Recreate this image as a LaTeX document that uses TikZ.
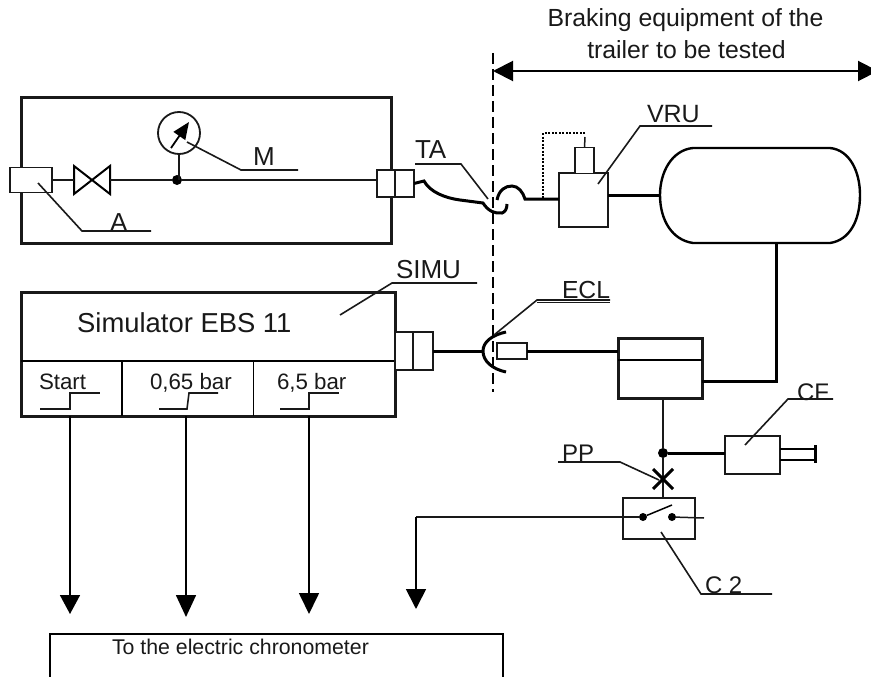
\documentclass[tikz,border=0pt]{standalone}
\usepackage{fontspec}
\setmainfont{Liberation Sans}
\usetikzlibrary{arrows.meta}
\tikzset{
  x=1pt,y=-1pt,
  thin line/.style={line width=1.5pt,black!90},
  thick line/.style={line width=3pt,black!90},
  leader/.style={line width=1.6pt,black!90},
  bx/.style={draw=black!90,fill=white,line width=1.6pt,inner sep=0,outer sep=0,anchor=north west},
  heavybx/.style={bx,line width=3pt},
  lbl/.style={inner sep=0,outer sep=0,anchor=base west,font=\fontsize{26}{26}\selectfont,text=black!90},
  small/.style={inner sep=0,outer sep=0,anchor=base west,font=\fontsize{22.3}{22}\selectfont,text=black!90},
  dotn/.style={circle,fill=black,inner sep=0,outer sep=0,minimum size=10pt},
  tip/.style={-{Triangle[length=#1,width=20pt]},line width=1.7pt},
  hdr/.style={inner sep=0,outer sep=0,anchor=base,font=\fontsize{24.8}{25}\selectfont,text=black!90},
}
\begin{document}
\begin{tikzpicture}
\useasboundingbox (0,0) rectangle (871,677);
\clip (0,0) rectangle (871,677);
% top header
\node[hdr] (hdr1) at (685.5,27) {Braking equipment of the};
\node[hdr] (hdr2) at (686.5,59) {trailer to be tested};
\coordinate (spanL) at (493,71);
\coordinate (spanR) at (878,71);
\draw[{Triangle[length=20pt,width=20pt]}-{Triangle[length=20pt,width=20pt]},line width=2pt] (spanL) -- (spanR);
% boundary
\coordinate (divT) at (493,53);
\coordinate (divB) at (493,392);
\draw[line width=1.6pt,dash pattern=on 11pt off 5pt] (divT) -- (divB);

% upper box
\node[heavybx,fill=none,minimum width=370pt,minimum height=145pt] (panel) at (21,98) {};
\node[bx,minimum width=42pt,minimum height=25pt] (A) at (10,167.5) {};
\coordinate (vL) at (74,180);
\coordinate (vC) at (92,180);
\coordinate (vR) at (110,180);
\draw[line width=2pt,line join=miter] (74,166) -- (110,194) -- (110,166) -- (74,194) -- cycle;
\node[dotn] (junc) at (177,180) {};
\node[circle,draw=black!90,line width=1.8pt,fill=white,inner sep=0,minimum size=42pt] (gauge) at (179,133) {};
\node[bx,minimum width=18pt,minimum height=27pt] (c1) at (377,170) {};
\node[bx,minimum width=19pt,minimum height=27pt] (c2) at (395,170) {};
\draw[thin line] (A.east) -- (vL);
\draw[thin line] (vR) -- (junc) -- (junc -| c1.west);
\draw[thin line] (gauge.south) -- (gauge.south |- junc);
\coordinate (needleA) at (171,148);
\coordinate (needleB) at (189,122);
\draw[-{Triangle[length=17pt,width=14pt]},line width=1.8pt] (needleA) -- (needleB);
% leaders M, A
\coordinate (mT) at (187,142); \coordinate (mK) at (241,170); \coordinate (mE) at (298,170);
\draw[leader] (mT) -- (mK) -- (mE);
\node[lbl] (labM) at (253,165) {M};
\coordinate (aT) at (38,183); \coordinate (aK) at (82,231); \coordinate (aE) at (151,231);
\draw[leader] (aT) -- (aK) -- (aE);
\node[lbl] (labA) at (110,231) {A};

% trailer side
\node[bx,minimum width=49pt,minimum height=54pt] (VRU) at (559,173) {};
\node[bx,minimum width=19pt,minimum height=26pt] (VRUtop) at (575,147.5) {};
\coordinate (stem) at (585,137);
\draw[thin line] (VRUtop.north) -- (stem);
\coordinate (dA) at (585,133); \coordinate (dB) at (543,133); \coordinate (dC) at (543,198);
\draw[line width=2.4pt,dash pattern=on 2pt off 1.5pt] (dA) -- (dB) -- (dC);
% hose
\coordinate (hoseA) at (424,181);
\draw[line width=3pt] (c2.east) -- (424,181) .. controls (430,192) and (445,198) .. (460,200) -- (483,203) .. controls (488,211) and (495,214) .. (502,213) .. controls (505,212) and (507,209) .. (507,204);
\draw[line width=3pt] (497,200) .. controls (499,190) and (505,186) .. (512,186) .. controls (518,186) and (523,192) .. (525,199) -- (VRU.west |- 0,199);
\draw[line width=3pt] (VRU.east |- 0,195) -- (660,195);
% tank
\node[inner sep=0,outer sep=0,minimum width=200pt,minimum height=95pt] (tank) at (760,195.5) {};
\draw[line width=2.4pt] (693,148) -- (830,148) .. controls (850,150) and (860,172) .. (860,195) .. controls (860,220) and (850,240) .. (830,243) -- (693,243) .. controls (672,240) and (660,220) .. (660,195) .. controls (660,172) and (672,150) .. (693,148) -- cycle;
% leaders
\coordinate (taS) at (415,164); \coordinate (taK) at (461,164); \coordinate (taT) at (488,199);
\draw[leader] (taS) -- (taK) -- (taT);
\node[lbl] (labTA) at (415,158) {TA};
\coordinate (vT) at (598,184); \coordinate (vK) at (640,126); \coordinate (vE) at (712,126);
\draw[leader] (vT) -- (vK) -- (vE);
\node[lbl,font=\fontsize{25}{25}\selectfont] (labVRU) at (647,123) {VRU};

% simulator
\node[heavybx,minimum width=374pt,minimum height=124pt] (sim) at (21,292) {};
\coordinate (simL) at (21,361); \coordinate (simR) at (395,361);
\draw[line width=2.2pt] (simL) -- (simR);
\draw[line width=2pt] (122,361) -- (122,416);
\draw[line width=1pt] (253,361) -- (253,416);
\node[inner sep=0,anchor=base west,font=\fontsize{27.4}{27}\selectfont,text=black!90] (labSim) at (77,332) {Simulator EBS 11};
\node[small] (labStart) at (39,389) {Start};
\node[small] (lab065) at (150,389) {0,65 bar};
\node[small] (lab65) at (277,389) {6,5 bar};
\draw[leader] (40,409) -- (70,409) -- (70,393) -- (100,393);
\draw[leader] (159,409) -- (187,409) -- (189,393) -- (218,393);
\draw[leader] (280,409) -- (309,409) -- (309,393) -- (339,393);
% simulator plug
\node[bx,minimum width=18pt,minimum height=38pt] (p1) at (395,332) {};
\node[bx,minimum width=20pt,minimum height=38pt] (p2) at (413,332) {};
\coordinate (sockM) at (483,351);
\draw[line width=3pt] (p2.east) -- (sockM);
\draw[line width=3pt] (506,332) .. controls (492,335) and (483,342) .. (483,351) .. controls (483,361) and (492,369) .. (506,372);
\node[bx,minimum width=30pt,minimum height=16pt,line width=2.6pt] (plug) at (497,343) {};
% relay
\node[heavybx,minimum width=84pt,minimum height=60pt] (relay) at (618,338) {};
\draw[line width=2pt] (618,360) -- (702,360);
\draw[line width=3pt] (plug.east) -- (relay.west |- plug.east);
\coordinate (pipeK) at (776,381);
\draw[line width=3pt] (relay.east |- pipeK) -- (pipeK) -- (pipeK |- tank.south);
% leaders
\coordinate (sT) at (340,315); \coordinate (sK) at (392,283); \coordinate (sE) at (477,283);
\draw[leader] (sT) -- (sK) -- (sE);
\node[lbl] (labSIMU) at (396,278) {SIMU};
\coordinate (eT) at (494,335); \coordinate (eK) at (537,300); \coordinate (eE) at (610,300);
\draw[leader] (eT) -- (eK) -- (eE);
\draw[leader,line width=1pt] (537,302.5) -- (610,302.5);
\node[lbl,font=\fontsize{24.7}{25}\selectfont] (labECL) at (562,298) {ECL};

% brake chamber branch
\node[dotn] (jb) at (663,453) {};
\node[bx,minimum width=72pt,minimum height=41pt] (C2) at (623,498) {};
\draw[thin line] (relay.south -| jb) -- (jb) -- (jb |- C2.north);
\node[bx,minimum width=55pt,minimum height=38pt,line width=2pt] (CF) at (725,436) {};
\draw[line width=3pt] (jb) -- (CF.west |- jb);
\draw[line width=2.4pt] (780,449) -- (815,449);
\draw[line width=2.4pt] (780,460) -- (815,460);
\draw[line width=3pt] (815,445) -- (815,463);
% PP cross
\coordinate (PP) at (663,479);
\draw[line width=3pt] (653,469) -- (673,489);
\draw[line width=3pt] (673,469) -- (653,489);
% switch
\node[dotn,minimum size=8pt] (sw1) at (643,517) {};
\node[dotn,minimum size=8pt] (sw2) at (672,517) {};
\coordinate (swT) at (672,505);
\draw[line width=1.5pt] (sw1) -- (swT);
\coordinate (swR) at (704,518);
\draw[thin line] (sw2) -- (swR);
\coordinate (wire) at (416,517);
\draw[thin line] (sw1) -- (C2.west |- sw1) -- (wire);
% leaders
\coordinate (cfT) at (745,445); \coordinate (cfK) at (788,399); \coordinate (cfE) at (833,399);
\draw[leader] (cfT) -- (cfK) -- (cfE);
\node[lbl,font=\fontsize{24}{24}\selectfont] (labCF) at (797,400) {CF};
\coordinate (ppT) at (659,480); \coordinate (ppK) at (620,462); \coordinate (ppE) at (558,462);
\draw[leader] (ppT) -- (ppK) -- (ppE);
\node[lbl,font=\fontsize{24}{24}\selectfont] (labPP) at (562,461) {PP};
\coordinate (c2T) at (661,532); \coordinate (c2K) at (701,594); \coordinate (c2E) at (772,594);
\draw[leader] (c2T) -- (c2K) -- (c2E);
\node[lbl,font=\fontsize{24}{24}\selectfont] (labC2) at (705,593) {C 2};

% chronometer
\coordinate (bL) at (50,677); \coordinate (bTL) at (50,634); \coordinate (bTR) at (503,634); \coordinate (bR) at (503,677);
\draw[line width=1.5pt] (bL) -- (bTL) -- (bTR) -- (bR);
\node[inner sep=0,outer sep=0,anchor=base west,font=\fontsize{21.3}{21}\selectfont,text=black!90] (labChron) at (112,654) {To the electric chronometer};
\coordinate (t1) at (70,614); \coordinate (t2) at (186,617); \coordinate (t3) at (309,614); \coordinate (t4) at (416,609);
\draw[tip=19pt] (sim.south -| t1) -- (t1);
\draw[tip=22pt] (sim.south -| t2) -- (t2);
\draw[tip=21pt] (sim.south -| t3) -- (t3);
\draw[tip=20pt] (wire) -- (t4);
\end{tikzpicture}
\end{document}
